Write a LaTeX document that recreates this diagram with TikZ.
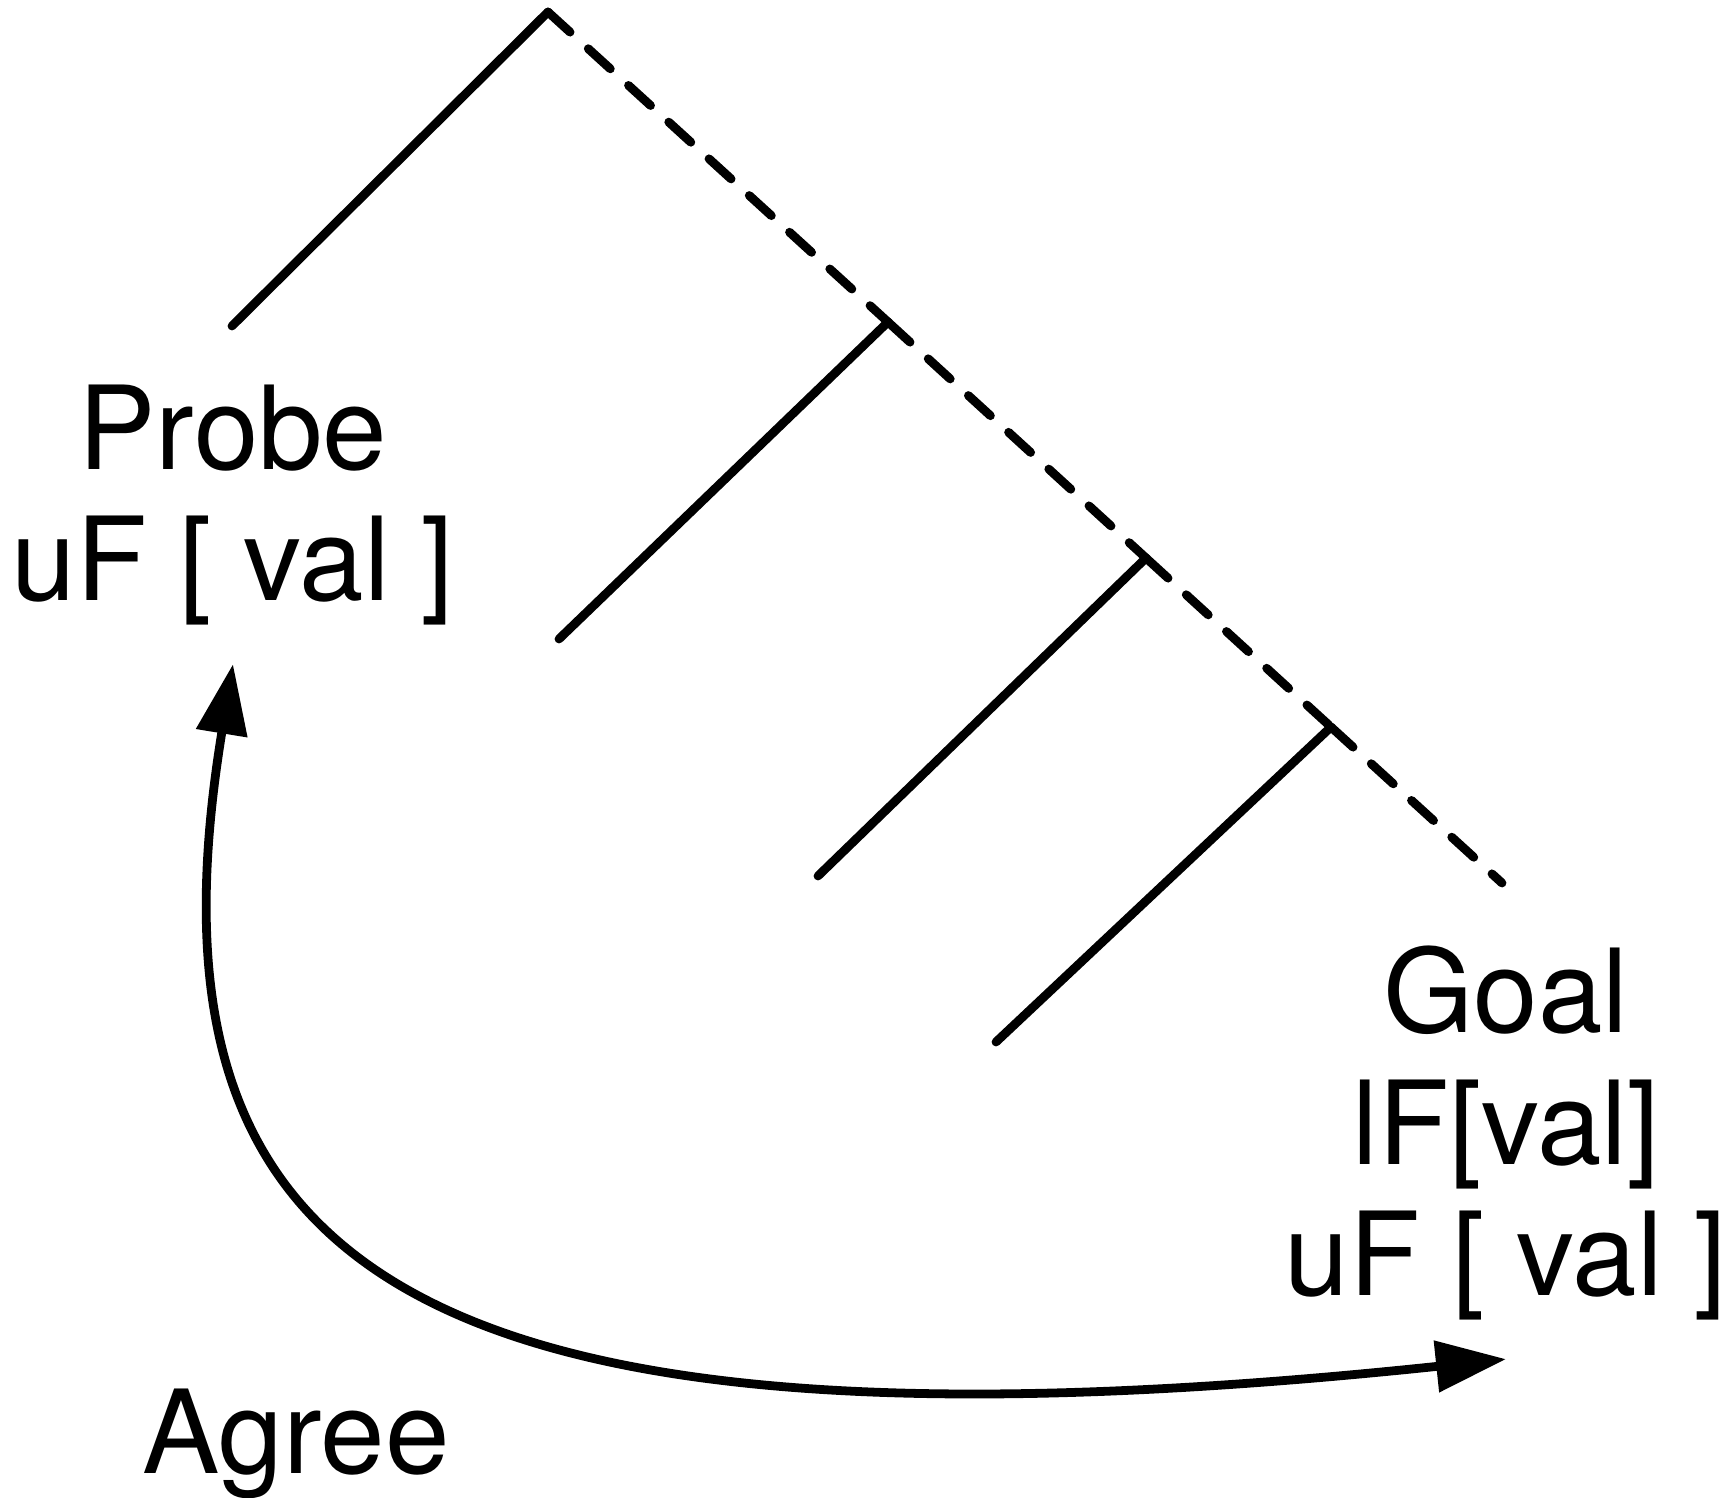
\documentclass[tikz,border=0pt]{standalone}
\usepackage{fontspec}
\setmainfont{TeX Gyre Heros}
\usetikzlibrary{arrows.meta}
\tikzset{
  % Solid branch
  branch/.style={line width=2.5pt,line cap=round},
  % Dashed spine
  spine/.style={line width=2.5pt,line cap=round,
    dash pattern=on 8.5pt off 7pt},
  % Feature labels
  lbl/.style={align=center,inner sep=0.38cm,
    font=\fontsize{33}{37.5}\selectfont},
  % Agree arrow
  arr/.style={{Triangle[length=0.7cm,width=0.5cm]}-{Triangle[length=0.7cm,width=0.5cm]},
    line width=2.5pt},
}
\begin{document}
\begin{tikzpicture}
  \useasboundingbox (0,0) rectangle (17.28,-14.98);

  \coordinate (top) at (5.48,-0.12);
  \coordinate (left) at (2.32,-3.26);
  \coordinate (n1) at (8.88,-3.22);
  \coordinate (n2) at (11.46,-5.58);
  \coordinate (n3) at (13.31,-7.27);
  \coordinate (spineend) at (15.02,-8.83);
  \coordinate (b1) at (5.59,-6.39);
  \coordinate (b2) at (8.18,-8.76);
  \coordinate (b3) at (9.96,-10.42);

  \node[lbl] (probe) at (2.33,-5.05) {Probe\\uF [ val ]};
  \node[lbl] (goal) at (15.06,-11.33) {Goal\\lF[val]\\uF [ val ]};
  \node[lbl,inner sep=0pt,anchor=base] (agree) at (2.96,-14.73) {Agree};

  \draw[branch] (top) -- (left);
  \draw[spine] (top) -- (n1);
  \draw[spine] (n1) -- (n2);
  \draw[spine] (n2) -- (n3);
  \draw[spine] (n3) -- (spineend);
  \draw[branch] (n1) -- (b1);
  \draw[branch] (n2) -- (b2);
  \draw[branch] (n3) -- (b3);

  \draw[arr] (probe.south) .. controls +(-0.95,-5.8) and +(-11.4,-1.2) .. (goal.south);
\end{tikzpicture}
\end{document}
